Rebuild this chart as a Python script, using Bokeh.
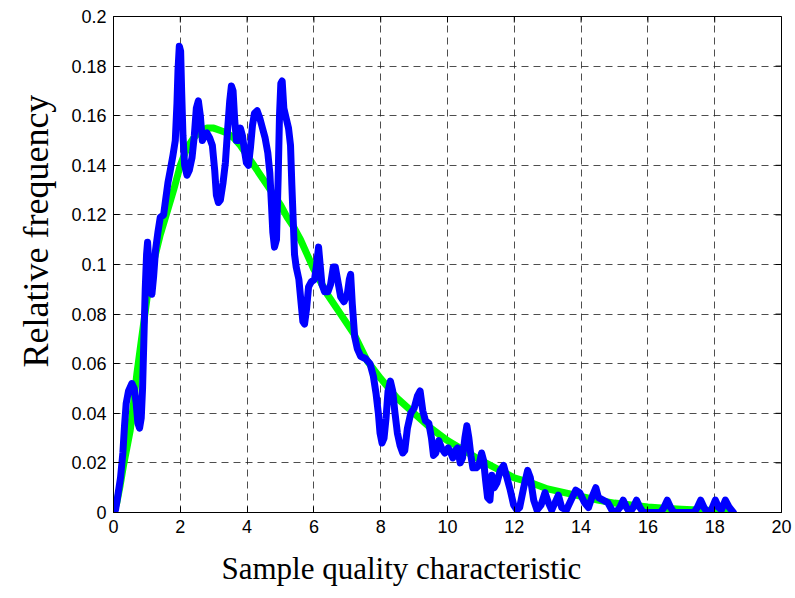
import math
from bokeh.plotting import figure
from bokeh.models import FixedTicker, Range1d, Title
from bokeh.embed import file_html
from bokeh.resources import INLINE

# ---- data -------------------------------------------------------------
x_ticks = [0, 2, 4, 6, 8, 10, 12, 14, 16, 18, 20]
x_tick_labels = ["0", "2", "4", "6", "8", "10", "12", "14", "16", "18", "20"]
y_ticks = [0, 0.02, 0.04, 0.06, 0.08, 0.1, 0.12, 0.14, 0.16, 0.18, 0.2]
y_tick_labels = ["0", "0.02", "0.04", "0.06", "0.08", "0.1", "0.12",
                 "0.14", "0.16", "0.18", "0.2"]

# smooth (fitted) curve, green
fit_x = [0, 0.1, 0.2, 0.3, 0.4, 0.5, 0.6, 0.7, 0.8, 0.9, 1.0, 1.2, 1.4, 1.6,
         1.8, 2.0, 2.2, 2.4, 2.6, 2.8, 3.0, 3.2, 3.4, 3.6, 3.8, 4.0, 4.2, 4.4,
         4.6, 4.8, 5.0, 5.2, 5.4, 5.6, 5.8, 6.0, 6.4, 6.8, 7.2, 7.6, 8.0, 8.5,
         9.0, 9.5, 10.0, 10.5, 11.0, 11.5, 12.0, 12.5, 13.0, 13.5, 14.0, 14.5,
         15.0, 15.5, 16.0, 16.5, 17.0, 17.5, 18.0, 18.5]
fit_y = [0, 0.004, 0.011, 0.019, 0.026, 0.033, 0.044, 0.056, 0.066, 0.076,
         0.086, 0.101, 0.112, 0.121, 0.130, 0.140, 0.147, 0.151, 0.154, 0.155,
         0.155, 0.154, 0.153, 0.151, 0.148, 0.144, 0.140, 0.136, 0.132, 0.128,
         0.124, 0.119, 0.115, 0.110, 0.104, 0.098, 0.088, 0.080, 0.072, 0.061,
         0.054, 0.046, 0.040, 0.034, 0.029, 0.025, 0.021, 0.0175, 0.014, 0.012,
         0.0095, 0.008, 0.0065, 0.005, 0.0038, 0.003, 0.0022, 0.0017, 0.0013,
         0.001, 0.0008, 0.0006]

# empirical (sample) curve, blue
emp_x = [0.00, 0.06, 0.12, 0.21, 0.28, 0.33, 0.38, 0.45, 0.55, 0.62, 0.68,
         0.73, 0.78, 0.83, 0.87, 0.91, 0.95, 0.99, 1.02, 1.06, 1.10, 1.15,
         1.20, 1.26, 1.33, 1.40, 1.50, 1.56, 1.63, 1.70, 1.78, 1.85, 1.90,
         1.93, 1.97, 2.01, 2.04, 2.08, 2.13, 2.20, 2.27, 2.35, 2.42, 2.48,
         2.54, 2.60, 2.66, 2.73, 2.80, 2.88, 2.96, 3.03, 3.08, 3.14, 3.20,
         3.28, 3.35, 3.42, 3.48, 3.53, 3.58, 3.63, 3.68, 3.73, 3.80, 3.86,
         3.92, 3.98, 4.04, 4.10, 4.16, 4.22, 4.30, 4.38, 4.46, 4.54, 4.62,
         4.68, 4.73, 4.77, 4.82, 4.88, 4.93, 4.97, 5.01, 5.05, 5.10, 5.17,
         5.24, 5.30, 5.34, 5.38, 5.42, 5.47, 5.55, 5.62, 5.67, 5.72, 5.78,
         5.84, 5.92, 6.02, 6.08, 6.14, 6.18, 6.24, 6.32, 6.42, 6.50, 6.58,
         6.64, 6.72, 6.80, 6.90, 7.00, 7.06, 7.10, 7.15, 7.22, 7.30, 7.40,
         7.55, 7.68, 7.78, 7.86, 7.93, 7.98, 8.04, 8.10, 8.16, 8.22, 8.29,
         8.36, 8.42, 8.50, 8.58, 8.66, 8.72, 8.80, 8.90, 9.00, 9.10, 9.18,
         9.26, 9.34, 9.44, 9.52, 9.58, 9.65, 9.74, 9.82, 9.92, 10.02, 10.10,
         10.16, 10.24, 10.30, 10.38, 10.45, 10.52, 10.58, 10.64, 10.70, 10.76,
         10.86, 10.94, 11.02, 11.08, 11.14, 11.20, 11.27, 11.33, 11.40, 11.48,
         11.58, 11.68, 11.78, 11.88, 11.98, 12.08, 12.16, 12.28, 12.40, 12.48,
         12.58, 12.68, 12.80, 12.92, 13.02, 13.12, 13.22, 13.32, 13.42, 13.56,
         13.70, 13.84, 13.96, 14.10, 14.22, 14.32, 14.44, 14.52, 14.66, 14.80,
         14.92, 15.04, 15.16, 15.26, 15.36, 15.46, 15.56, 15.66, 15.76, 15.86,
         16.00, 16.20, 16.38, 16.48, 16.58, 16.68, 16.78, 17.00, 17.20, 17.38,
         17.48, 17.58, 17.68, 17.78, 17.90, 18.02, 18.12, 18.20, 18.32, 18.44,
         18.56]
emp_y = [0.000, 0.001, 0.006, 0.014, 0.024, 0.035, 0.044, 0.049, 0.052, 0.050,
         0.044, 0.036, 0.034, 0.038, 0.050, 0.070, 0.090, 0.104, 0.109, 0.100,
         0.092, 0.088, 0.095, 0.106, 0.113, 0.119, 0.120, 0.126, 0.133, 0.138,
         0.144, 0.150, 0.165, 0.178, 0.188, 0.186, 0.170, 0.152, 0.140, 0.136,
         0.138, 0.143, 0.152, 0.163, 0.166, 0.160, 0.150, 0.152, 0.153, 0.151,
         0.148, 0.138, 0.128, 0.125, 0.126, 0.133, 0.141, 0.155, 0.166, 0.172,
         0.170, 0.158, 0.150, 0.150, 0.155, 0.152, 0.146, 0.141, 0.140, 0.147,
         0.156, 0.161, 0.162, 0.159, 0.155, 0.151, 0.145, 0.137, 0.124, 0.113,
         0.107, 0.110, 0.135, 0.160, 0.173, 0.174, 0.163, 0.159, 0.155, 0.148,
         0.132, 0.118, 0.104, 0.099, 0.094, 0.084, 0.077, 0.076, 0.082, 0.091,
         0.093, 0.094, 0.100, 0.107, 0.101, 0.092, 0.089, 0.089, 0.092, 0.099,
         0.099, 0.093, 0.087, 0.085, 0.088, 0.094, 0.096, 0.084, 0.071, 0.066,
         0.063, 0.062, 0.060, 0.055, 0.048, 0.040, 0.032, 0.028, 0.030, 0.038,
         0.049, 0.053, 0.049, 0.041, 0.032, 0.027, 0.024, 0.025, 0.034, 0.040,
         0.042, 0.047, 0.049, 0.041, 0.037, 0.036, 0.030, 0.023, 0.024, 0.029,
         0.026, 0.024, 0.026, 0.024, 0.022, 0.025, 0.026, 0.020, 0.022, 0.030,
         0.035, 0.030, 0.023, 0.018, 0.018, 0.019, 0.024, 0.021, 0.013, 0.006,
         0.005, 0.015, 0.010, 0.012, 0.017, 0.019, 0.014, 0.009, 0.003, 0.001,
         0.002, 0.010, 0.017, 0.014, 0.005, 0.001, 0.003, 0.008, 0.004, 0.001,
         0.004, 0.007, 0.002, 0.001, 0.005, 0.009, 0.008, 0.004, 0.002, 0.006,
         0.010, 0.006, 0.005, 0.004, 0.001, 0.000, 0.002, 0.005, 0.002, 0.000,
         0.002, 0.005, 0.002, 0.000, 0.000, 0.000, 0.000, 0.002, 0.005, 0.002,
         0.000, 0.000, 0.000, 0.000, 0.002, 0.005, 0.002, 0.000, 0.001, 0.005,
         0.002, 0.001, 0.005, 0.002, 0.000]

x_label = "Sample quality characteristic"
y_label = "Relative frequency"

# ---- figure -----------------------------------------------------------
p = figure(width=795, height=598, output_backend="svg", toolbar_location=None,
           x_range=Range1d(x_ticks[0], x_ticks[-1]),
           y_range=Range1d(y_ticks[0], y_ticks[-1]),
           min_border_left=113, min_border_right=14, min_border_top=16,
           min_border_bottom=86, background_fill_color="white",
           border_fill_color="white")
p.outline_line_color = "black"
p.outline_line_width = 1
p.outline_line_alpha = 1

p.grid.ticker = None
p.xgrid.ticker = FixedTicker(ticks=x_ticks)
p.ygrid.ticker = FixedTicker(ticks=y_ticks)
p.grid.grid_line_color = "#222222"
p.grid.grid_line_alpha = 0.8
p.grid.grid_line_dash = "7 5"
p.grid.grid_line_width = 1

p.line(fit_x, fit_y, line_color="#00ff00", line_width=7,
       line_join="round", line_cap="round")
p.line(emp_x, emp_y, line_color="#0000ff", line_width=7,
       line_join="round", line_cap="round")

# mirrored inward tick marks on the top and right edges (box on)
p.scatter([x_ticks[-1]] * len(y_ticks), y_ticks, marker="dash", size=12,
          line_color="black", line_width=1)
p.scatter(x_ticks, [y_ticks[-1]] * len(x_ticks), marker="dash", size=12,
          angle=math.pi / 2, line_color="black", line_width=1)

p.xaxis.ticker = FixedTicker(ticks=x_ticks)
p.xaxis.major_label_overrides = {t: s for t, s in zip(x_ticks, x_tick_labels)}
p.yaxis.ticker = FixedTicker(ticks=y_ticks)
p.yaxis.major_label_overrides = {t: s for t, s in zip(y_ticks, y_tick_labels)}

for ax in (p.xaxis[0], p.yaxis[0]):
    ax.major_tick_in = 6
    ax.major_tick_out = 0
    ax.minor_tick_line_color = None
    ax.axis_line_color = "black"
    ax.major_tick_line_color = "black"
    ax.major_label_text_font = "Liberation Sans"
    ax.major_label_text_font_size = "18px"
    ax.major_label_text_color = "black"

p.xaxis.major_label_standoff = 7
p.yaxis.major_label_standoff = 7

p.add_layout(Title(text=x_label, text_font="Liberation Serif",
                   text_font_size="31px", text_font_style="normal",
                   text_color="black", align="left", offset=108,
                   standoff=26), "below")
p.add_layout(Title(text=y_label, text_font="Liberation Serif",
                   text_font_size="36px", text_font_style="normal",
                   text_color="black", align="left", offset=145,
                   standoff=25), "left")

open("out.html", "w").write(file_html(p, INLINE))
